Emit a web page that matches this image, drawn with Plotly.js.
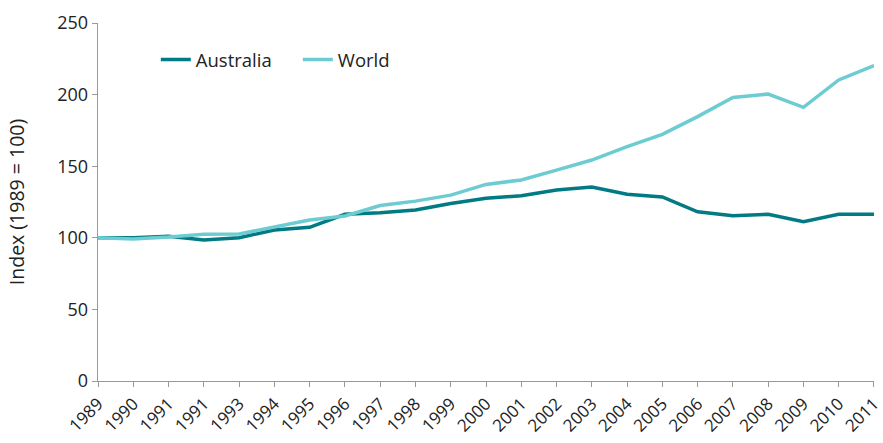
<!DOCTYPE html>
<html>
<head>
<meta charset="utf-8">
<script src="https://cdn.plot.ly/plotly-3.0.1.min.js"></script>
<style>html,body{margin:0;padding:0;background:#fff;}#chart{width:883px;height:443px;}</style>
</head>
<body>
<div id="chart"></div>
<script>
const years = [1989,1990,1991,1992,1993,1994,1995,1996,1997,1998,1999,2000,2001,2002,2003,2004,2005,2006,2007,2008,2009,2010,2011];
const tickLabels = ["1989","1990","1991","1991","1993","1994","1995","1996","1997","1998","1999","2000","2001","2002","2003","2004","2005","2006","2007","2008","2009","2010","2011"];
const australia = [100,100,101,98.5,100,105.5,107.3,116.4,117.5,119.4,124,127.6,129.4,133.4,135.5,130.4,128.5,118.2,115.4,116.4,111.3,116.4,116.4];
const world = [100,99.2,100.5,102.4,102.7,107.5,112.4,115.2,122.5,125.6,129.8,137.3,140.4,147.3,154.3,163.6,172.2,184.6,198,200.4,191.1,210.2,220.2];

const font = "'Open Sans', 'Noto Sans', sans-serif";
const traces = [
  {x: years, y: australia, name: "Australia", type: "scatter", mode: "lines",
   line: {color: "#007A83", width: 3.5}},
  {x: years, y: world, name: "World", type: "scatter", mode: "lines",
   line: {color: "#6DCCD2", width: 3.5}}
];
const layout = {
  width: 883, height: 443,
  margin: {l: 98, r: 9, t: 23, b: 62},
  paper_bgcolor: "#fff", plot_bgcolor: "#fff",
  font: {family: font, size: 18, color: "#222"},
  showlegend: true,
  legend: {orientation: "h", x: 0.0745, y: 0.897, xanchor: "left", yanchor: "middle",
           entrywidth: 97, entrywidthmode: "pixels",
           font: {size: 18.5, color: "#222"}, bgcolor: "rgba(0,0,0,0)"},
  xaxis: {range: [1988.999, 2011.001], tickvals: years, ticktext: tickLabels, tickangle: -45,
          ticklabeloverflow: "allow",
          showgrid: false, zeroline: false, showline: true, linecolor: "#999", linewidth: 1.3,
          ticks: "outside", ticklen: 5, tickcolor: "#999", tickfont: {size: 17, color: "#222"}},
  yaxis: {range: [0, 250], tickvals: [0,50,100,150,200,250], showgrid: false, zeroline: false,
          showline: true, linecolor: "#999", linewidth: 1.3, ticks: "outside", ticklen: 5,
          tickcolor: "#999", tickfont: {size: 18, color: "#222"},
          title: {text: "Index (1989 = 100)", font: {size: 19.5, color: "#222"}, standoff: 27}}
};
Plotly.newPlot("chart", traces, layout, {staticPlot: true, displayModeBar: false});
</script>
</body>
</html>
